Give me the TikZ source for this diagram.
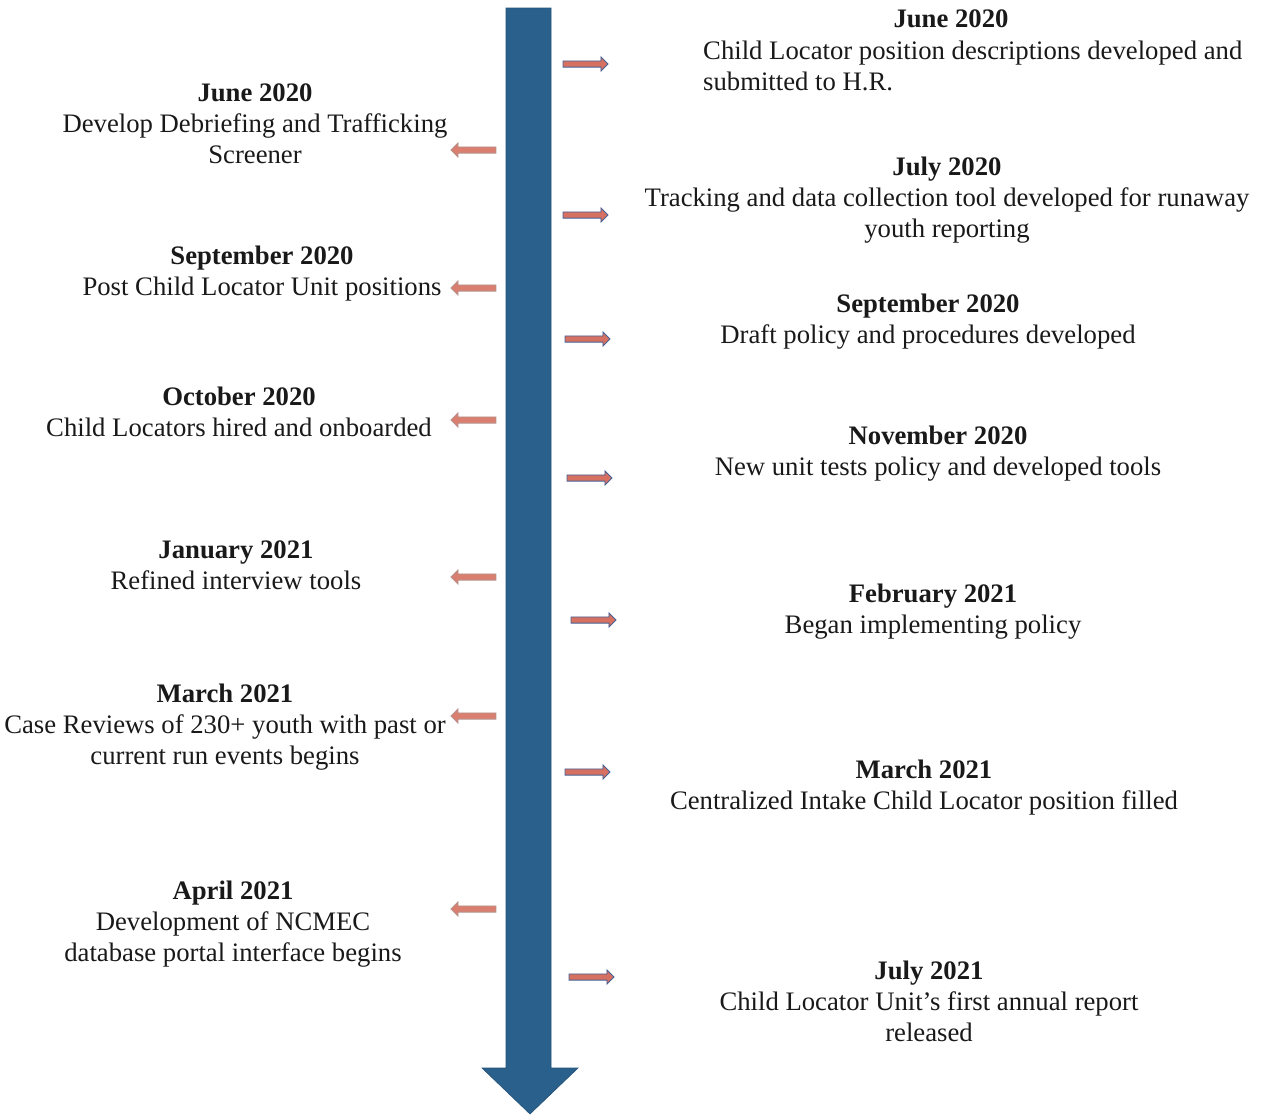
\documentclass[tikz,border=0pt]{standalone}
\usepackage{fontspec}
\setmainfont{Liberation Serif}
\usepackage{xcolor}
\usetikzlibrary{shapes.arrows}
\definecolor{barblue}{RGB}{42,96,140}
\definecolor{ptrred}{RGB}{214,112,96}
\definecolor{ptrblue}{RGB}{70,98,150}
\definecolor{ptrbrown}{RGB}{150,100,90}
\definecolor{inktext}{RGB}{25,25,25}
\tikzset{
  event/.style={align=center, text=inktext, inner sep=0pt, font=\fontsize{26.7}{31}\selectfont},
  eventleft/.style={event, align=left},
  ptr/.style={single arrow, minimum height=45pt, single arrow head extend=4pt, inner sep=2.6pt, line width=0.9pt},
  rptr/.style={ptr, fill=ptrred, draw=ptrblue},
  lptr/.style={ptr, fill=ptrred!90!white, draw=ptrbrown!70, shape border rotate=180},
  timeline/.style={fill=barblue, draw=barblue!85!black, line width=0.6pt}
}
\begin{document}
\begin{tikzpicture}[x=1pt, y=-1pt]
    \useasboundingbox (0,0) rectangle (1263,1117);

    % main time axis
    \draw[timeline] (506,8) -- (551,8) -- (551,1068) -- (578,1068) -- (530,1114) -- (482,1068) -- (506,1068) -- cycle;

    % right column
    \node[event, anchor=north] (r1t) at (951,10) {\textbf{June 2020}};
    \node[eventleft, anchor=north west] (r1) at (703,41) {Child Locator position descriptions developed and\\submitted to H.R.};
    \node[event] (r2) at (947,200) {\textbf{July 2020}\\Tracking and data collection tool developed for runaway\\youth reporting};
    \node[event] (r3) at (928,322) {\textbf{September 2020}\\Draft policy and procedures developed};
    \node[event] (r4) at (938,454) {\textbf{November 2020}\\New unit tests policy and developed tools};
    \node[event] (r5) at (933,612) {\textbf{February 2021}\\Began implementing policy};
    \node[event] (r6) at (924,788) {\textbf{March 2021}\\Centralized Intake Child Locator position filled};
    \node[event] (r7) at (929,1001) {\textbf{July 2021}\\Child Locator Unit's first annual report\\released};

    % left column
    \node[event] (l1) at (255,124) {\textbf{June 2020}\\Develop Debriefing and Trafficking\\Screener};
    \node[event] (l2) at (262,274) {\textbf{September 2020}\\Post Child Locator Unit positions};
    \node[event] (l3) at (239,412) {\textbf{October 2020}\\Child Locators hired and onboarded};
    \node[event] (l4) at (236,565) {\textbf{January 2021}\\Refined interview tools};
    \node[event] (l5) at (225,727) {\textbf{March 2021}\\Case Reviews of 230+ youth with past or\\current run events begins};
    \node[event] (l6) at (233,924) {\textbf{April 2021}\\Development of NCMEC\\database portal interface begins};

    % pointers
    \node[rptr] (p1) at (584,64) {};
    \node[rptr] (p2) at (584,215) {};
    \node[rptr] (p3) at (586,339) {};
    \node[rptr] (p4) at (588,478) {};
    \node[rptr] (p5) at (592,620) {};
    \node[rptr] (p6) at (586,772) {};
    \node[rptr] (p7) at (590,977) {};
    \node[lptr] (q1) at (475,150) {};
    \node[lptr] (q2) at (475,288) {};
    \node[lptr] (q3) at (475,420) {};
    \node[lptr] (q4) at (475,577) {};
    \node[lptr] (q5) at (475,716) {};
    \node[lptr] (q6) at (475,909) {};
\end{tikzpicture}
\end{document}
